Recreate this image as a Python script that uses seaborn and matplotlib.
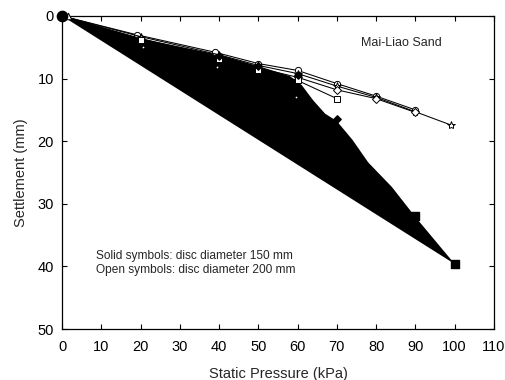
import matplotlib
matplotlib.use("Agg")
import matplotlib.pyplot as plt
import seaborn as sns
import pandas as pd

# ---------------- data ----------------
# black envelope traced by the solid-symbol (150 mm disc) tests
env_x = [0, 20, 40, 50, 58, 61, 64, 67, 70, 74, 78, 84, 90, 100]
env_y = [0, 3.6, 6.2, 8.0, 9.6, 11.0, 13.5, 15.6, 16.8, 19.8, 23.4, 27.3, 32.1, 39.6]

# open-symbol series (200 mm disc)
o1_x = [0, 19, 39, 50, 60, 70, 80, 90]
o1_y = [0, 3.0, 5.8, 7.6, 8.7, 10.8, 12.8, 15.0]
o2_x = [0, 20, 40, 50, 60, 70, 80, 90, 99]
o2_y = [0, 3.3, 6.2, 7.9, 9.2, 11.2, 13.0, 15.3, 17.4]
o3_x = [0, 20, 40, 50, 60, 70, 80, 90]
o3_y = [0, 3.6, 6.6, 8.3, 9.8, 11.8, 13.2, 15.4]
o4_x = [0, 20, 40, 50, 60, 70]
o4_y = [0, 3.8, 6.9, 8.6, 10.3, 13.2]
o5_x = [0, 20.5, 39.5, 59.7]
o5_y = [0, 4.9, 8.2, 12.9]
o6_x = [1.5]
o6_y = [0]

# solid-symbol points
s1_x = [0, 40, 50, 60, 70]
s1_y = [0, 6.4, 8.0, 9.5, 16.5]
s2_x = [90, 100]
s2_y = [32.0, 39.6]

x_ticks = [0, 10, 20, 30, 40, 50, 60, 70, 80, 90, 100, 110]
y_ticks = [0, 10, 20, 30, 40, 50]

# ---------------- style ----------------
sns.set_theme(style="ticks")
plt.rcParams['font.family'] = ['Liberation Sans', 'DejaVu Sans']

fig = plt.figure(figsize=(5.05, 3.8), dpi=100)
ax = fig.add_axes([0.123, 0.134, 0.855, 0.824])

ax.fill(env_x, env_y, color="black", lw=0, zorder=2)

def line(xs, ys, marker, face="white", ms=4.5, lw=0.75, z=3):
    df = pd.DataFrame({"x": xs, "y": ys})
    sns.lineplot(data=df, x="x", y="y", ax=ax, sort=False, estimator=None,
                 color="black", lw=lw, marker=marker, markersize=ms,
                 markerfacecolor=face, markeredgecolor="black",
                 markeredgewidth=0.7, zorder=z, clip_on=False)

line(o1_x, o1_y, "o")
line(o2_x, o2_y, "*", ms=6)
line(o3_x, o3_y, "D", ms=4)
line(o4_x, o4_y, "s")
line(o5_x, o5_y, ".", face="white", ms=4, lw=0)

ax.scatter(s1_x, s1_y, marker="D", s=14, color="black", zorder=4, clip_on=False)
ax.scatter(s2_x, s2_y, marker="s", s=28, color="black", zorder=4, clip_on=False)
ax.scatter([0], [0], marker="o", s=55, color="black", zorder=5, clip_on=False)
ax.scatter(o6_x, o6_y, marker="^", s=22, facecolor="white", edgecolor="black",
           linewidth=0.7, zorder=4, clip_on=False)

ax.set_xlim(0, 110)
ax.set_ylim(50, 0)
ax.set_xticks(x_ticks)
ax.set_yticks(y_ticks)
ax.tick_params(direction="in", top=True, right=True, length=3.5, width=0.8,
               labelsize=10.5, colors="black")
ax.tick_params(axis="x", pad=8)
ax.tick_params(axis="y", pad=6)
for sp in ax.spines.values():
    sp.set_visible(True)
    sp.set_linewidth(0.9)
    sp.set_color("black")

ax.set_xlabel("Static Pressure (kPa)", fontsize=10.5, labelpad=9)
ax.set_ylabel("Settlement (mm)", fontsize=10.5, labelpad=7)

ax.text(86.5, 4.3, "Mai-Liao Sand", fontsize=9, ha="center", va="center")
ax.text(8.7, 38.3, "Solid symbols: disc diameter 150 mm", fontsize=8.6, va="center")
ax.text(8.7, 40.5, "Open symbols: disc diameter 200 mm", fontsize=8.6, va="center")

fig.savefig("out.png", dpi=100, facecolor="white")
